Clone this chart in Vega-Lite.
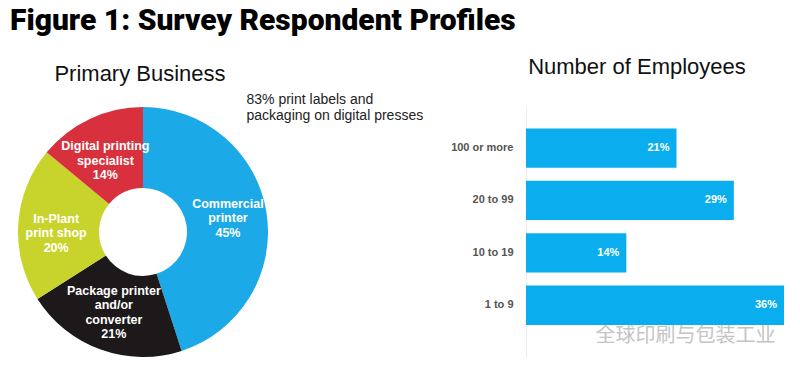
{
  "$schema": "https://vega.github.io/schema/vega-lite/v6.json",
  "background": "white",
  "padding": {"left": 10, "top": 6, "right": 0, "bottom": 0},
  "bounds": "flush",
  "spacing": 250,
  "title": {
    "text": "Figure 1: Survey Respondent Profiles",
    "anchor": "start",
    "font": "Roboto",
    "fontSize": 30,
    "fontWeight": 900,
    "color": "#000000",
    "offset": 20
  },
  "config": {"view": {"stroke": null}},
  "hconcat": [
    {
      "width": 266,
      "height": 250,
      "title": {
        "text": "Primary Business",
        "font": "Liberation Sans",
        "fontSize": 22,
        "fontWeight": "normal",
        "color": "#111111",
        "baseline": "alphabetic",
        "offset": 4,
        "dx": -3
      },
      "data": {
        "values": [
          {"business": "Commercial printer", "pct": 45, "order": 1, "label": ["Commercial", "printer", "45%"]},
          {"business": "Package printer and/or converter", "pct": 21, "order": 2, "label": ["Package printer", "and/or", "converter", "21%"]},
          {"business": "In-Plant print shop", "pct": 20, "order": 3, "label": ["In-Plant", "print shop", "20%"]},
          {"business": "Digital printing specialist", "pct": 14, "order": 4, "label": ["Digital printing", "specialist", "14%"]}
        ]
      },
      "encoding": {
        "theta": {"field": "pct", "type": "quantitative", "stack": true},
        "order": {"field": "order", "type": "quantitative"}
      },
      "layer": [
        {
          "mark": {"type": "arc", "outerRadius": 125, "innerRadius": 44},
          "encoding": {
            "color": {
              "field": "business",
              "type": "nominal",
              "legend": null,
              "scale": {
                "domain": ["Commercial printer", "Package printer and/or converter", "In-Plant print shop", "Digital printing specialist"],
                "range": ["#1ba9e8", "#1d191a", "#c8d42b", "#d8303d"]
              }
            }
          }
        },
        {
          "mark": {
            "type": "text",
            "radius": 86,
            "dy": -15,
            "font": "Liberation Sans",
            "fontSize": 12.5,
            "fontWeight": "bold",
            "color": "white",
            "lineHeight": 14.5,
            "align": "center",
            "baseline": "middle"
          },
          "encoding": {
            "text": {"field": "label"},
            "opacity": {
              "condition": {"test": "datum.order == 1", "value": 1},
              "value": 0
            }
          }
        },
        {
          "mark": {
            "type": "text",
            "radius": 86,
            "dy": -22,
            "font": "Liberation Sans",
            "fontSize": 12.5,
            "fontWeight": "bold",
            "color": "white",
            "lineHeight": 14.5,
            "align": "center",
            "baseline": "middle"
          },
          "encoding": {
            "text": {"field": "label"},
            "opacity": {
              "condition": {"test": "datum.order == 2", "value": 1},
              "value": 0
            }
          }
        },
        {
          "mark": {
            "type": "text",
            "radius": 86,
            "dy": -8,
            "dx": -1,
            "font": "Liberation Sans",
            "fontSize": 12.5,
            "fontWeight": "bold",
            "color": "white",
            "lineHeight": 14.5,
            "align": "center",
            "baseline": "middle"
          },
          "encoding": {
            "text": {"field": "label"},
            "opacity": {
              "condition": {"test": "datum.order >= 3", "value": 1},
              "value": 0
            }
          }
        }
      ]
    },
    {
      "width": 258,
      "height": 250,
      "title": {
        "text": "Number of Employees",
        "font": "Liberation Sans",
        "fontSize": 22,
        "fontWeight": "normal",
        "color": "#111111",
        "baseline": "alphabetic",
        "offset": -4,
        "dx": -18
      },
      "data": {
        "values": [
          {"employees": "100 or more", "pct": 21, "label": "21%"},
          {"employees": "20 to 99", "pct": 29, "label": "29%"},
          {"employees": "10 to 19", "pct": 14, "label": "14%"},
          {"employees": "1 to 9", "pct": 36, "label": "36%"}
        ]
      },
      "encoding": {
        "y": {
          "field": "employees",
          "type": "nominal",
          "sort": null,
          "scale": {"paddingInner": 0.25, "paddingOuter": 0.51, "align": 0.4},
          "axis": {
            "title": ["83% print labels and", "packaging on digital presses"],
            "titleAngle": 0,
            "titleAlign": "left",
            "titleBaseline": "alphabetic",
            "titleX": -280,
            "titleY": -4,
            "titleFont": "Liberation Sans",
            "titleFontSize": 14,
            "titleFontWeight": "normal",
            "titleColor": "#222222",
            "titleLineHeight": 16,
            "ticks": false,
            "labelPadding": 13,
            "labelFont": "Liberation Sans",
            "labelFontSize": 11,
            "labelFontWeight": "bold",
            "labelColor": "#555555",
            "domainColor": "#ececec",
            "domainWidth": 1
          }
        },
        "x": {
          "field": "pct",
          "type": "quantitative",
          "scale": {"domain": [0, 36], "nice": false, "zero": true},
          "axis": {
            "title": "全球印刷与包装工业",
            "titleFont": "Noto Sans CJK SC",
            "titleFontSize": 20,
            "titleFontWeight": "normal",
            "titleColor": "#c4c4c4",
            "titleX": 159,
            "titleY": -22,
            "titleBaseline": "middle",
            "titleAlign": "center",
            "labels": false,
            "ticks": false,
            "domain": false,
            "grid": false
          }
        }
      },
      "layer": [
        {"mark": {"type": "bar", "color": "#0aaeef"}},
        {
          "mark": {
            "type": "text",
            "align": "right",
            "baseline": "middle",
            "dx": -7,
            "font": "Liberation Sans",
            "fontSize": 11,
            "fontWeight": "bold",
            "color": "white"
          },
          "encoding": {"text": {"field": "label"}}
        }
      ]
    }
  ]
}
